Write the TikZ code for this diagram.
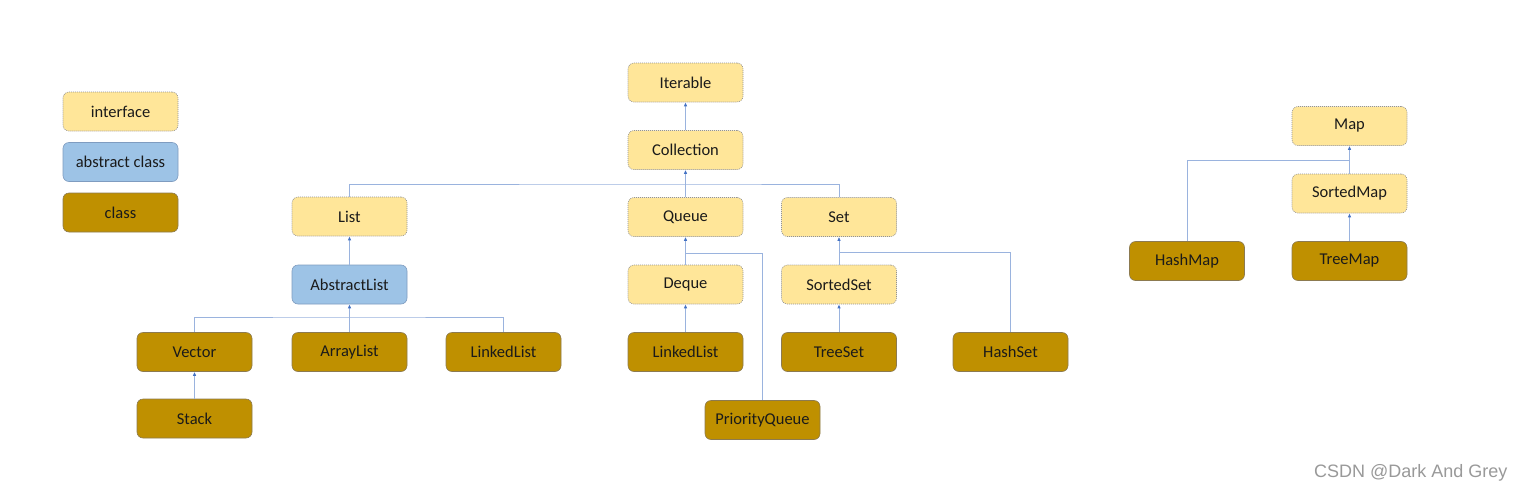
\documentclass[tikz,border=0pt]{standalone}
\usepackage{fontspec}
\setmainfont{Carlito}
\newfontfamily\wmfont{Liberation Sans}
\usetikzlibrary{arrows.meta}
\definecolor{ifill}{HTML}{FFE699}
\definecolor{afill}{HTML}{9DC3E6}
\definecolor{aborder}{HTML}{7F9CC0}
\definecolor{cfill}{HTML}{BF9000}
\definecolor{cborder}{HTML}{8C7A50}
\definecolor{lnc}{HTML}{9AB3DE}
\definecolor{arr}{HTML}{4472C4}
\definecolor{txt}{HTML}{1A1A1A}
\begin{document}
\begin{tikzpicture}[x=1pt,y=-1pt,
 box/.style={rounded corners=6pt, minimum width=115pt, minimum height=39pt, inner sep=0pt, font=\fontsize{16.5}{19}\selectfont, text=txt},
 iface/.style={box, fill=ifill, draw=gray!85, dash pattern=on 1pt off 1pt, line width=0.6pt},
 abs/.style={box, fill=afill, draw=aborder, line width=0.6pt},
 cls/.style={box, fill=cfill, draw=cborder, line width=0.6pt},
 edge/.style={draw=lnc, line width=1pt},
 up/.style={edge, -{Latex[length=4pt,width=3.5pt,color=arr]}},
]
\useasboundingbox (0,0) rectangle (1525,493);
\fill[white] (0,0) rectangle (1525,493);
% legend
\node[iface] (lgi) at (120.5,111.5) {interface};
\node[abs]   (lga) at (120.5,162) {abstract class};
\node[cls]   (lgc) at (120.5,212.5) {class};
% collection hierarchy
\node[iface] (iter) at (685.5,82.5) {Iterable};
\node[iface] (coll) at (685.5,150) {Collection};
\node[iface] (list) at (349.5,216.5) {List};
\node[iface] (queue) at (685.5,217) {Queue};
\node[iface] (set) at (839,217) {Set};
\node[abs]   (alist) at (349.5,284.5) {AbstractList};
\node[iface] (deque) at (685.5,284.5) {Deque};
\node[iface] (sset) at (839,284.5) {SortedSet};
\node[cls] (vector) at (194.5,352) {Vector};
\node[cls] (alst) at (349.5,352) {ArrayList};
\node[cls] (llA) at (503.5,352) {LinkedList};
\node[cls] (llB) at (685.5,352) {LinkedList};
\node[cls] (tset) at (839,352) {TreeSet};
\node[cls] (hset) at (1010.5,352) {HashSet};
\node[cls] (stack) at (194.5,418.5) {Stack};
\node[cls] (pq) at (762.5,420) {PriorityQueue};
% map hierarchy
\node[iface] (map) at (1349.5,126) {Map};
\node[iface] (smap) at (1349.5,193.5) {SortedMap};
\node[cls] (hmap) at (1187,261) {HashMap};
\node[cls] (tmap) at (1349.5,261) {TreeMap};
% bus points
\coordinate (cb) at (685.5,184);
\coordinate (ab) at (349.5,317);
\coordinate (qb) at (685.5,253);
\coordinate (sb) at (839,252);
\coordinate (mb) at (1349.5,160);
% connectors
\draw[up] (coll.north) -- (iter.south);
\draw[up] (queue.north) -- (coll.south);
\draw[edge] (list.north) |- (cb) -| (set.north);
\draw[up] (alist.north) -- (list.south);
\draw[up] (alst.north) -- (alist.south);
\draw[edge] (vector.north) |- (ab) -| (llA.north);
\draw[up] (stack.north) -- (vector.south);
\draw[up] (deque.north) -- (queue.south);
\draw[edge] (qb) -| (pq.north);
\draw[up] (llB.north) -- (deque.south);
\draw[up] (sset.north) -- (set.south);
\draw[edge] (sb) -| (hset.north);
\draw[up] (tset.north) -- (sset.south);
\draw[up] (smap.north) -- (map.south);
\draw[edge] (mb) -| (hmap.north);
\draw[up] (tmap.north) -- (smap.south);
% watermark
\node[font=\wmfont\fontsize{18}{20}\selectfont, text=gray!80, anchor=east] (wm) at (1511,473) {CSDN @Dark And Grey};
\end{tikzpicture}
\end{document}
